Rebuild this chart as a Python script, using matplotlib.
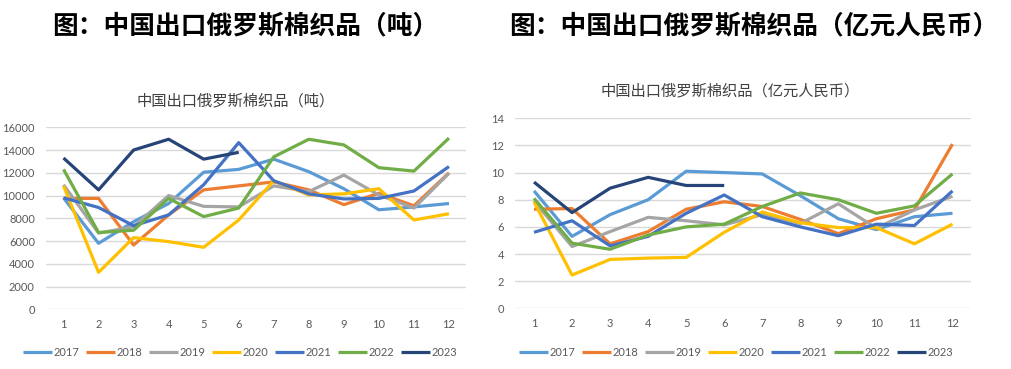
import matplotlib
matplotlib.use("Agg")
import matplotlib.pyplot as plt

plt.rcParams['font.family'] = ['Noto Sans CJK SC', 'DejaVu Sans']

months = list(range(1, 13))
month_labels = [str(m) for m in months]
years = ['2017', '2018', '2019', '2020', '2021', '2022', '2023']
colors = ['#5B9BD5', '#ED7D31', '#A5A5A5', '#FFC000', '#4472C4', '#70AD47', '#264478']

# Tonnes
tons_2017 = [9800, 5800, 7700, 9300, 12050, 12300, 13200, 12100, 10600, 8750, 9000, 9300]
tons_2018 = [9750, 9750, 5650, 8300, 10500, 10850, 11200, 10500, 9200, 10200, 9100, 12000]
tons_2019 = [10950, 6700, 7250, 10000, 9050, 9000, 10850, 10350, 11800, 10050, 8900, 11950]
tons_2020 = [10850, 3250, 6300, 5950, 5450, 7850, 11300, 10050, 10150, 10600, 7850, 8400]
tons_2021 = [9800, 8950, 7350, 8300, 10950, 14650, 11300, 10150, 9700, 9750, 10400, 12550]
tons_2022 = [12300, 6750, 6950, 9750, 8150, 8900, 13400, 14950, 14450, 12450, 12150, 15050]
tons_2023 = [13300, 10500, 14000, 14950, 13200, 13800]

# 100 million RMB
rmb_2017 = [8.65, 5.3, 6.9, 8.0, 10.1, 10.0, 9.9, 8.3, 6.6, 5.8, 6.75, 7.0]
rmb_2018 = [7.3, 7.35, 4.75, 5.65, 7.3, 7.85, 7.5, 6.55, 5.5, 6.6, 7.25, 12.1]
rmb_2019 = [7.9, 4.55, 5.65, 6.7, 6.45, 6.15, 6.9, 6.25, 7.7, 5.9, 7.25, 8.25]
rmb_2020 = [7.85, 2.45, 3.6, 3.7, 3.75, 5.6, 7.1, 6.3, 5.95, 5.95, 4.75, 6.2]
rmb_2021 = [5.6, 6.45, 4.6, 5.3, 7.0, 8.35, 6.75, 6.0, 5.35, 6.2, 6.1, 8.65]
rmb_2022 = [8.1, 4.8, 4.35, 5.4, 6.0, 6.2, 7.5, 8.5, 8.0, 7.0, 7.55, 9.9]
rmb_2023 = [9.3, 7.05, 8.85, 9.65, 9.05, 9.05]

tons = [tons_2017, tons_2018, tons_2019, tons_2020, tons_2021, tons_2022, tons_2023]
rmb = [rmb_2017, rmb_2018, rmb_2019, rmb_2020, rmb_2021, rmb_2022, rmb_2023]

W, H = 1012, 369
fig = plt.figure(figsize=(W / 100, H / 100), dpi=100)
fig.patch.set_facecolor('white')

def px_axes(x0, x1, ytop, ybot):
    return fig.add_axes([x0 / W, 1 - ybot / H, (x1 - x0) / W, (ybot - ytop) / H])

def style(ax, ymax, step):
    ax.set_xlim(0.5, 12.5)
    ax.set_ylim(0, ymax)
    ax.set_yticks([i * step for i in range(int(round(ymax / step)) + 1)])
    ax.set_xticks(months)
    ax.set_xticklabels(month_labels)
    for s in ax.spines.values():
        s.set_visible(False)
    ax.grid(axis='y', color='#D9D9D9', linewidth=1)
    ax.set_axisbelow(True)
    ax.tick_params(axis='y', length=0, labelsize=8, colors='#595959', pad=8)
    ax.tick_params(axis='x', length=0, labelsize=8, colors='#595959', pad=7)
    for lab in ax.get_xticklabels() + ax.get_yticklabels():
        lab.set_family(['Lato', 'DejaVu Sans'])

ax1 = px_axes(46, 466.5, 127.3, 309.3)
lines1 = []
for y, c, d in zip(years, colors, tons):
    ln, = ax1.plot(months[:len(d)], d, color=c, linewidth=2.3, label=y, solid_capstyle='butt')
    lines1.append(ln)
style(ax1, 16000, 2000)

ax2 = px_axes(515, 971.5, 118.3, 308.3)
lines2 = []
for y, c, d in zip(years, colors, rmb):
    ln, = ax2.plot(months[:len(d)], d, color=c, linewidth=2.3, label=y, solid_capstyle='butt')
    lines2.append(ln)
style(ax2, 14, 2)

# big titles
fig.text(52 / W, 1 - 26 / H, '图：中国出口俄罗斯棉织品（吨）', ha='left', va='center',
         fontsize=18.5, fontweight='bold', color='black')
fig.text(509 / W, 1 - 26 / H, '图：中国出口俄罗斯棉织品（亿元人民币）', ha='left', va='center',
         fontsize=18.5, fontweight='bold', color='black')

# chart titles
fig.text(235.5 / W, 1 - 101 / H, '中国出口俄罗斯棉织品（吨）', ha='center', va='center',
         fontsize=11, color='#404040')
fig.text(730 / W, 1 - 91 / H, '中国出口俄罗斯棉织品（亿元人民币）', ha='center', va='center',
         fontsize=11, color='#404040')

leg_kw = dict(loc='center', ncol=7, frameon=False, handlelength=2.6, handletextpad=0.15,
              columnspacing=0.6, labelcolor='#595959',
              prop={'family': ['Lato', 'DejaVu Sans'], 'size': 8})
fig.legend(handles=lines1, bbox_to_anchor=(240 / W, 1 - 352 / H), **leg_kw)
fig.legend(handles=lines2, bbox_to_anchor=(736 / W, 1 - 352 / H), **leg_kw)

fig.savefig('out.png', dpi=100, facecolor='white')
